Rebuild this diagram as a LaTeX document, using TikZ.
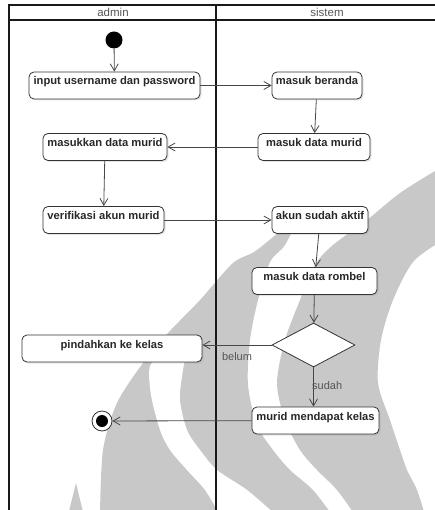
\documentclass[tikz,border=0pt]{standalone}
\usepackage{fontspec}
\setmainfont{Liberation Sans}
\usetikzlibrary{arrows.meta}
\usetikzlibrary{shapes.geometric}
\usetikzlibrary{shadows}

\definecolor{wmgray}{RGB}{200,200,200}
\definecolor{linegray}{RGB}{70,70,70}
\definecolor{textgray}{RGB}{85,85,85}
\definecolor{boxtext}{RGB}{40,40,40}

\begin{document}
\begin{tikzpicture}[x=1pt, y=-1pt]

	\tikzset{lane/.style={line width=1.4pt, black!90}}
	\tikzset{lanetitle/.style={font=\fontsize{11.5}{13}\selectfont, text=textgray, inner sep=0pt}}
	\tikzset{actbox/.style={rectangle, rounded corners=5pt, draw=black!80, line width=0.8pt, fill=white,
			drop shadow={opacity=0.2, shadow xshift=1.5pt, shadow yshift=-1.5pt},
			minimum height=27pt, text height=9.5pt, text depth=10.5pt, inner ysep=3.5pt, inner xsep=2pt,
			font=\fontsize{11.2}{13}\selectfont\bfseries, text=boxtext}}
	\tikzset{decision/.style={diamond, draw=black!80, line width=0.8pt, fill=white,
			minimum width=83pt, minimum height=44pt, inner sep=0pt}}
	\tikzset{startdot/.style={circle, fill=black, minimum size=17pt, inner sep=0pt}}
	\tikzset{enddot/.style={circle, draw=black!80, line width=0.8pt, fill=white, minimum size=20pt, inner sep=0pt}}
	\tikzset{flow/.style={-{Straight Barb[length=7pt, width=8pt]}, linegray, line width=0.8pt}}
	\tikzset{guard/.style={font=\fontsize{11}{13}\selectfont, text=textgray, inner sep=0pt}}

	\useasboundingbox (0,0) rectangle (435,510);

	% watermark
	\begin{scope}
		\clip (0,0) rectangle (435,510);
		\fill[wmgray] plot[smooth] coordinates {(300,214) (257,250) (233,263) (200,300) (168,333) (143,363) (117,403) (103,450) (100,515)}
		-- plot[smooth] coordinates {(332,515) (313,490) (290,470) (273,450) (257,425) (248,385) (250,340) (258,300) (270,262) (285,245) (300,214)} -- cycle;
		\fill[white] plot[smooth] coordinates {(190,336) (165,352) (150,366) (151,395) (160,430) (170,450) (187,470) (205,490) (220,515)}
		-- plot[smooth] coordinates {(276,515) (247,490) (217,470) (200,450) (187,430) (180,400) (183,370) (190,336)} -- cycle;
		\fill[wmgray] plot[smooth] coordinates {(440,168) (400,193) (367,220) (333,245) (315,265) (300,300) (285,340) (277,383) (285,420) (300,450) (317,470) (337,490) (355,515)}
		-- plot[smooth] coordinates {(425,515) (417,490) (407,470) (400,450) (390,420) (378,383) (381,340) (393,300) (413,262) (440,242)} -- cycle;
		\fill[wmgray] (76,483) .. controls (73,495) .. (68,515) -- (84,515) .. controls (80,500) .. (76,483);
	\end{scope}

	% swimlanes
	\draw[lane] (9,520) -- (9,5) -- (440,5);
	\draw[lane] (9,20) -- (440,20);
	\draw[lane] (216,5) -- (216,520);

	\node[lanetitle] (admin) at (113,12.5) {admin};
	\node[lanetitle] (sistem) at (327,12.5) {sistem};

	% activities
	\node[startdot] (start) at (114,40) {};
	\node[actbox, minimum width=171pt] (input) at (114.5,85.5) {input username dan password};
	\node[actbox, minimum width=90pt] (beranda) at (317,85.5) {masuk beranda};
	\node[actbox, minimum width=112pt] (datamurid) at (314,147) {masuk data murid};
	\node[actbox, minimum width=124pt] (masukkan) at (105,147) {masukkan data murid};
	\node[actbox, minimum width=121pt] (verif) at (103.5,220) {verifikasi akun murid};
	\node[actbox, minimum width=96pt] (akun) at (320,220) {akun sudah aktif};
	\node[actbox, minimum width=125pt] (rombel) at (314.5,281) {masuk data rombel};
	\node[decision] (cek) at (313.5,345) {};
	\node[actbox, minimum width=180pt] (pindah) at (112,348.5) {pindahkan ke kelas};
	\node[actbox, minimum width=127pt] (murid) at (315.5,420.5) {murid mendapat kelas};
	\node[enddot] (stop) at (102,421) {};
	\fill[black] (stop.center) circle (6pt);

	\node[guard] (belum) at (237,357) {belum};
	\node[guard, anchor=west] (sudah) at (312,386) {sudah};

	% flows
	\draw[flow] (start) -- (input);
	\draw[flow] (input) -- (beranda);
	\draw[flow] (beranda) -- (datamurid);
	\draw[flow] (datamurid) -- (masukkan);
	\draw[flow] (masukkan) -- (verif);
	\draw[flow] (verif) -- (akun);
	\draw[flow] (akun) -- (rombel);
	\draw[flow] (rombel) -- (cek);
	\draw[flow] (cek.west) -- (pindah.east |- cek.west);
	\draw[flow] (cek.south) -- (cek.south |- murid.north);
	\draw[flow] (murid) -- (stop);

\end{tikzpicture}
\end{document}
